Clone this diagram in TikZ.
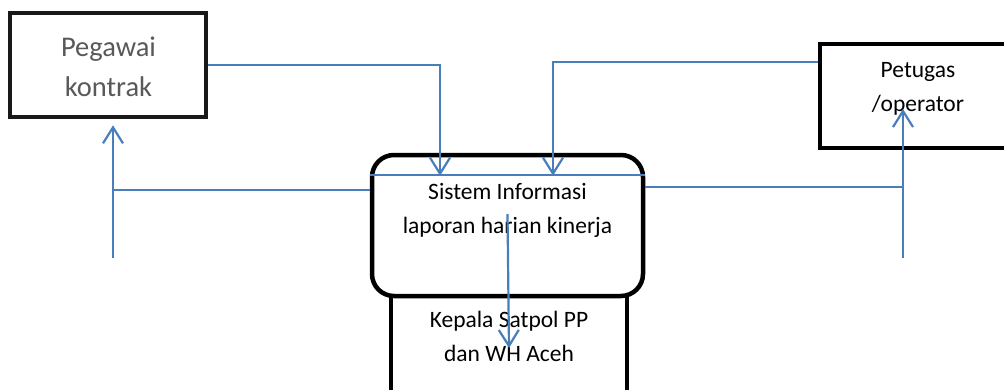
\documentclass[tikz,border=0pt]{standalone}
\usepackage{fontspec}
\setmainfont{Carlito}
\usetikzlibrary{arrows.meta}

\definecolor{garisbiru}{RGB}{74,126,187}

\tikzset{
	kotak/.style={draw=black, line width=4.5pt, fill=white, inner sep=0pt},
	teks/.style={align=center, inner sep=0pt, font=\fontsize{23.5}{34}\selectfont},
	garis/.style={draw=garisbiru, line width=2.2pt},
	alur/.style={garis, -{Straight Barb[length=16pt,width=20pt,line width=2.2pt]}}
}

\begin{document}
\begin{tikzpicture}[x=1pt,y=-1pt]
	\clip (0,0) rectangle (1004,389);
	\fill[white] (0,0) rectangle (1004,389);

	% kotak-kotak
	\node[kotak, draw=black!90, minimum width=196pt, minimum height=104pt] (pegawai) at (108,65) {};
	\node[kotak, minimum width=196pt, minimum height=104pt] (petugas) at (918,96) {};
	\node[kotak, minimum width=236pt, minimum height=102pt] (kepala) at (509,345) {};
	\node[kotak, rounded corners=22pt, minimum width=271pt, minimum height=141pt] (sistem) at (507.5,225.5) {};

	% teks
	\node[teks, font=\fontsize{28.5}{40}\selectfont, text=black!65] (pegawaitxt) at (108.5,67) {Pegawai\\kontrak};
	\node[teks] (petugastxt) at (918,88.5) {Petugas\\/operator};
	\node[teks] (sistemtxt) at (507.5,210) {Sistem Informasi\\laporan harian kinerja};
	\node[teks] (kepalatxt) at (509,336) {Kepala Satpol PP\\dan WH Aceh};

	\coordinate (kiri) at (113,258);
	\coordinate (kanan) at (903,258);

	% alur data
	\draw[alur] (pegawai.east) -| ([xshift=-67.5pt,yshift=-23pt]sistem.north);
	\draw[alur] ([yshift=34pt]petugas.west) -| ([xshift=45.5pt,yshift=-23pt]sistem.north);
	\draw[garis] ([yshift=50.5pt]sistem.west) -- ([yshift=50.5pt]sistem.east);

	\draw[garis] ([yshift=35.5pt]sistem.west) -- ([yshift=35.5pt]sistem.west -| kiri);
	\draw[alur, shorten >=6pt] (kiri) -- (pegawai.south -| kiri);

	\draw[garis] ([yshift=38.5pt]sistem.east) -- ([yshift=38.5pt]sistem.east -| kanan);
	\draw[alur, shorten >=13pt] (kanan) -- (petugas.center -| kanan);

	\draw[alur] ([yshift=11.5pt]sistem.center) -- ([yshift=-3pt]kepala.center);
\end{tikzpicture}
\end{document}
